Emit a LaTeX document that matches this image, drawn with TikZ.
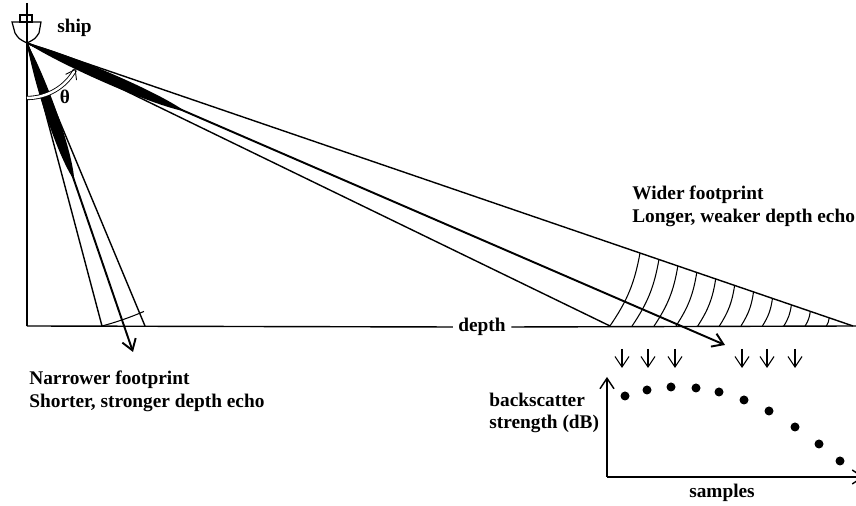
\documentclass[tikz,border=0pt]{standalone}
\usepackage{fontspec}
\setmainfont{Liberation Serif}
\usetikzlibrary{arrows.meta, positioning, calc}

\begin{document}
\begin{tikzpicture}[x=0.02cm, y=0.02cm, >={Straight Barb[length=6pt, width=8pt]},
        edge/.style={line width=0.8pt},
        ray/.style={->, line width=1.1pt},
        ring/.style={line width=0.6pt},
        lbl/.style={font=\bfseries\fontsize{11}{13}\selectfont, align=left, inner sep=0pt},
        sample/.style={circle, fill=black, inner sep=0pt, minimum size=0.18cm}]

    \useasboundingbox[fill=white] (0,0) rectangle (856,506);

    % transducer at the keel, sea floor corners
    \coordinate (A) at (27,463);
    \coordinate (O) at (27,180);
    \coordinate (E) at (856,180);

    % ship
    \draw[line width=0.7pt] (12,484) -- (41,484) -- (39,473) .. controls (35,467) .. (A)
        .. controls (19,467) .. (15,473) -- cycle;
    \draw[line width=0.7pt] (20,484) rectangle (32,491);
    \draw[line width=0.7pt] (27,503) -- (A);

    % labels
    \node[lbl, anchor=west] (ship) at (57,478) {ship};
    \node[lbl] (theta) at (65,409) {θ};
    \node[lbl, fill=white, inner sep=3pt] (depth) at (482,179) {depth};
    \node[lbl, anchor=west] (wide) at (632,300) {Wider footprint\\Longer, weaker depth echo};
    \node[lbl, anchor=west] (narrow) at (29,115) {Narrower footprint\\Shorter, stronger depth echo};
    \node[lbl, anchor=west] (bs) at (489,93) {backscatter\\strength (dB)};
    \node[lbl] (samples) at (722,13) {samples};

    % vertical and sea floor
    \draw[edge] (A) -- (O);
    \draw[edge] (O) -- (depth.west);
    \draw[edge] (depth.east) -- (E);

    % near-vertical beam
    \coordinate (NL) at (102,180);
    \coordinate (NR) at (145,180);
    \coordinate (NT) at (133,154);
    \draw[edge] (A) -- (NL);
    \draw[edge] (A) -- (NR);
    \draw[ray] (A) -- (NT);
    \draw[ring] (NL) arc[start angle=-75.2, end angle=-66.5, radius=292.8];
    \begin{scope}[shift={(A)}, rotate=-71]
        \fill (0,0) .. controls (40,7) and (118,8) .. (145,0)
            .. controls (118,-8) and (40,-7) .. (0,0);
    \end{scope}

    % oblique beam
    \coordinate (WL) at (610,180);
    \coordinate (WU) at (853,180);
    \coordinate (WT) at (725,161);
    \draw[edge] (A) -- (WL);
    \draw[edge] (A) -- (WU);
    \draw[ray] (A) -- (WT);
    \foreach \r in {648,668,...,848}
        \draw[ring] ({27+100*sqrt((\r/100)^2-2.83^2)},180) to[bend right=12] ($(A)+(-18.91:\r)$);
    \begin{scope}[shift={(A)}, rotate=-23.4]
        \fill (0,0) .. controls (40,7) and (140,7.5) .. (172,0)
            .. controls (140,-7.5) and (40,-7) .. (0,0);
    \end{scope}

    % angle from the vertical
    \draw[line width=0.5pt, double, double distance=1.4pt, -{Straight Barb[length=5pt, width=7pt]}]
        ($(A)+(-90:55)$) arc[start angle=-90, end angle=-28, radius=55];

    % samples falling on the floor
    \foreach \x in {622,648,675,742,767,795}
        \draw[line width=0.6pt, ->] (\x,157) -- (\x,138);

    % backscatter curve
    \draw[line width=0.8pt, ->] (607,29) -- (607,129);
    \draw[line width=0.8pt, ->] (607,29) -- (864,29);
    \foreach \x/\y [count=\i] in {625/110, 647/116, 671/119, 696/118, 719/114,
            744/106, 769/95, 795/79, 819/62, 840/45}
        \node[sample] (s\i) at (\x,\y) {};
\end{tikzpicture}
\end{document}
